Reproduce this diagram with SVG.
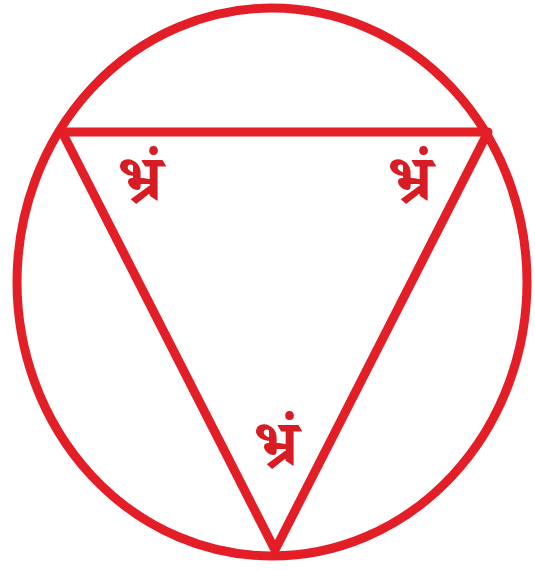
<svg xmlns="http://www.w3.org/2000/svg" width="535" height="571" viewBox="0 0 535 571">
<style>
.s{fill:none;stroke:#e31e26;stroke-width:9;stroke-linejoin:round}
.t{fill:#d81c24;font-family:"Noto Serif Devanagari","Noto Sans Devanagari","Lohit Devanagari","FreeSerif",serif;font-size:64px;font-weight:bold;text-anchor:middle}
</style>
<rect width="535" height="571" fill="#fff"/>
<g id="circle"><ellipse class="s" cx="272" cy="282" rx="255" ry="274"/></g>
<g id="triangle"><polygon class="s" points="62,132 488,132 275,550"/></g>
<g id="label-left"><text class="t" x="140" y="200">भ्रं</text></g>
<g id="label-right"><text class="t" x="410" y="200">भ्रं</text></g>
<g id="label-bottom"><text class="t" x="276" y="465">भ्रं</text></g>
</svg>
